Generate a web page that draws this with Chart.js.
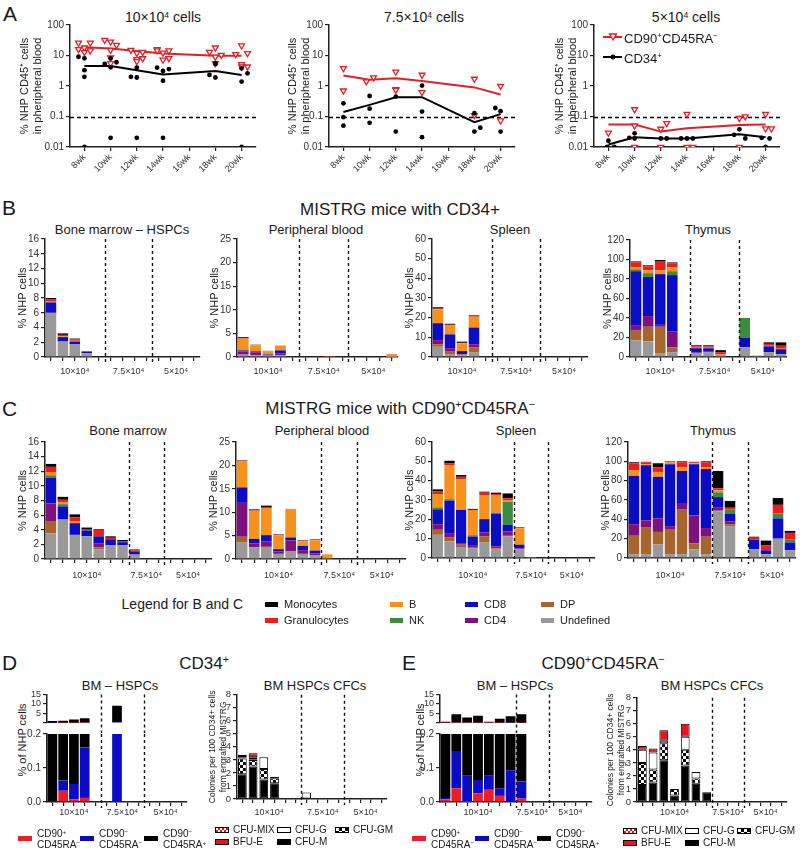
<!DOCTYPE html>
<html><head><meta charset="utf-8">
<script src="https://cdn.jsdelivr.net/npm/chart.js@4"></script>
<style>
body{margin:0;width:800px;height:854px;position:relative;background:#fff;overflow:hidden;
  font-family:'Liberation Sans',Arial,sans-serif;color:#1a1a1a}
.t{position:absolute;white-space:nowrap;line-height:1}
sup{font-size:0.62em;line-height:0;vertical-align:0.5em}
canvas{position:absolute}
.sw{position:absolute;box-sizing:border-box}
</style></head><body>
<script>
// ---------- data ----------
const weeks = [8, 10, 12, 14, 16, 18, 20];
const meanWeeks = [8, 10, 12, 14, 18, 20];
const decades = [0.01, 0.1, 1, 10, 100];
const groupNames = ['10×10⁴', '7.5×10⁴', '5×10⁴'];

// A: [week (with jitter), % NHP CD45+]
const a1Red = [[7.55,26],[7.55,16],[8,18],[8,12.7],[8.45,26],[8.45,14.4],
  [9.55,32],[10,28],[10.45,22],[10,15],[10,8.5],[10,5.5],
  [11.55,15],[12,12],[12,7.5],[12,6.4],[12.45,13],[12.45,8],
  [13.55,16],[13.55,14.5],[14,12.3],[14,7.2],[14.45,14.4],[14.45,8.1],
  [17.55,13],[18,18],[18,9],[18,5.5],[18.45,10.4],
  [19.55,11],[20,21],[20,5.1],[20,4.3],[20.45,11.8],[20.45,4.3]];
const a1Black = [[7.55,9.1],[8,8.1],[8,3.3],[8,2.0],[8,0.01],
  [9.55,5.3],[10,8.1],[10,4.1],[10.45,6],[10,0.02],
  [11.55,2.0],[12,4.0],[12,1.9],[12,0.02],
  [13.55,4],[14,3.1],[14,1.5],[14.45,3.6],[14,0.02],
  [17.55,2.3],[18,1.9],[18,5.5],[18,5.3],
  [20,1.4],[20,3.8],[20.45,2.6],[20,0.01]];
const a1RedMean = [18.5, 17, 14, 11.7, 9.9, 9.9];
const a1BlackMean = [4.5, 4.5, 3.3, 2.4, 3.1, 2.3];

const a2Red = [[8,3.8],[8,0.7],[9.75,1.4],[10.3,1.9],[12,2.9],[12,0.78],[12,0.74],
  [14,2.3],[14,0.62],[18,1.7],[18,0.11],[20,1.0],[20,0.073]];
const a2Black = [[8,0.27],[8,0.095],[8,0.05],[10,0.47],[10,0.18],[10,0.062],[12,0.45],[12,0.032],
  [14,1.03],[14,0.145],[14,0.021],[18,0.128],[18,0.032],[18.45,0.043],[19.6,0.19],[20,0.15],[20,0.032]];
const a2RedMean = [2.2, 1.6, 1.8, 1.45, 0.9, 0.53];
const a2BlackMean = [0.14, 0.24, 0.43, 0.43, 0.065, 0.12];

const a3Red = [[8,0.029],[10,0.17],[10,0.05],[10,0.01],[12,0.039],[12.45,0.06],[12,0.01],
  [14,0.12],[14,0.01],[14.45,0.01],[18,0.088],[18.45,0.1],[18,0.01],[20,0.12],[20,0.04],[20.45,0.04]];
const a3Black = [[7.9,0.01],[8.45,0.01],[8,0.016],[9.6,0.02],[10,0.028],[10,0.019],[12,0.019],[12.45,0.019],
  [13.55,0.019],[14,0.019],[14.45,0.019],[17.6,0.025],[18,0.038],[18.45,0.019],[19.7,0.02],[20.3,0.019],[20,0.01]];
const a3RedMean = [0.055, 0.055, 0.032, 0.041, 0.053, 0.055];
const a3BlackMean = [0.012, 0.021, 0.019, 0.019, 0.026, 0.021];

// B/C: segment sizes per bar, bottom to top
const cellTypes = ['Undefined', 'DP', 'CD4', 'CD8', 'NK', 'B', 'Granulocytes', 'Monocytes'];
const cellColors = ['#999999', '#a6652c', '#7f117f', '#0c0cc4', '#3b8c3b', '#f7911d', '#f21b1b', '#000000'];

const bmB = [[5.9,0,0.1,1.4,0,0.1,0.3,0.2],[2.1,0,0,0.6,0,0.1,0.2,0.2],[1.7,0,0,0.4,0,0.1,0.2,0.1],[0.5,0,0,0.2,0,0,0.05,0.05]];
const bmBSlots = [0, 1, 2, 3];
const pbB = [[0.5,0,0.7,0.2,0,2.5,0.1,0.2],[0.4,0,0.6,0.2,0,1.3,0.05,0.05],[0.3,0,0.2,0.1,0,0.65,0.03,0.02],
  [0.4,0,0.4,0.6,0,0.95,0.03,0.02],[0,0,0,0,0,0.08,0.05,0],[0.05,0,0,0,0,0.45,0.1,0]];
const pbBSlots = [0, 1, 2, 3, 7, 12];
const spB = [[5.2,1.3,2.1,8.6,0,7.1,0.3,0.7],[1.5,1.2,1.8,7.0,0,4.8,0.1,0.5],[1.0,0.3,0.2,1.5,0,4.0,0.2,0.6],[2.5,2.5,1.5,8.5,0,5.5,0.5,0.3]];
const spBSlots = [0, 1, 2, 3];
const thB = [[17,10,5,56,2,2,5,1],[16,15,11,40,4,3,4,1],[4,27,2,52,0,4,9.5,1],[5,5,16,58,4,4,4,1],
  [4,0,0.5,4.5,0,0.5,1.5,1],[5,0,1,3,0,0.5,1.5,1],[2,0.5,0,0,0,0.5,2,2],
  [10,0,0,10,20,0,0,0],[1.5,0,0,0,0,0,0,0],[5,0,0,6,0,0.5,2,1.5],[3,0,0,5,0,0.5,3,3.5]];
const thBSlots = [0, 1, 2, 3, 5, 6, 7, 9, 10, 11, 12];

const bmC = [[3.5,1.7,2.4,3.5,0.35,0.45,0.7,0.4],[5.4,0,0,1.8,0.3,0.3,0.3,0.4],[3.3,0,0,1.6,0,0.3,0.5,0.4],
  [3.1,0,0,0.8,0,0,0.2,0.2],[1.3,0.3,0.5,1.0,0,0,0.9,0.1],[1.9,0,0,0.8,0,0,0.2,0.2],[1.9,0,0,0.4,0,0,0.15,0.15],
  [0.6,0,0,0.45,0,0,0.15,0.1]];
const bmCSlots = [0, 1, 2, 3, 4, 5, 6, 7];
const pbC = [[3.5,1.25,7.25,3.3,0,5.65,0.05,0.1],[2.5,0,0.8,1.0,0,6.0,0.1,0.2],[2.6,0,1.2,1.3,0,5.8,0.2,0.3],
  [1.1,0,0.5,0.5,0,3.0,0.1,0.1],[1.6,0,2.4,0.6,0,6.0,0.05,0.05],[1.1,0,0.8,0.9,0,1.0,0.1,0.1],
  [0.85,0,0.35,0.6,0,2.2,0.1,0.1],[0,0,0,0,0,1.0,0,0]];
const pbCSlots = [0, 1, 2, 3, 4, 5, 6, 7];
const spC = [[12.0,2.6,2.9,7.7,1.0,6.9,1.5,0.9],[8.6,2.2,2.1,16.8,0.7,17.6,0.9,1.4],[5.7,1.2,0.8,17.2,0,15.8,1.3,0.9],
  [5.1,0.6,1.0,4.4,0.7,13.1,0,0.5],[8.2,2.9,2.1,6.9,0,12.5,1.2,0.5],[4.6,0.4,1.0,16.8,0.7,9.1,0.5,0.7],
  [11.1,0.4,2.2,3.5,12.0,0.5,1.2,2.5],[4.6,0,0.3,2.0,0,8.5,0.1,0.3],[0,0,0,0,0,0.2,0.2,0]];
const spCSlots = [0, 1, 2, 3, 4, 5, 6, 7, 8];
const thC = [[4,19,12,50,0,6,7,1],[4,28,7,57,0,1,2,0.5],[14,13,14,43,0,5,5,4],[4,26,3,64,0,2,0.5,0.5],
  [4,46,6,34,0,4,5,1],[9,6,29,53,0,1,1,0.5],[4,18,9,61,0,2,5,1],
  [48,1,3,11,5,2,2,18],[33,2,3,8,4,0,2,7],
  [9,0,0,10,0,0,2,1],[4,0,0,4,0,0,5,5],[20,0,0,21,5,0,9,7],[8,0,0,8,3,0,7,2]];
const thCSlots = [0, 1, 2, 3, 4, 5, 6, 7, 8, 10, 11, 12, 13];

// D/E: BM HSPC subsets [CD90+CD45RA-, CD90-CD45RA-, CD90-CD45RA+]
const subsetNames = ['CD90+CD45RA-', 'CD90-CD45RA-', 'CD90-CD45RA+'];
const subsetColors = ['#ee1c25', '#0b0bc6', '#000000'];
const hspcD = [[0,0.003,1.0],[0.033,0.03,1.1],[0.008,0.045,1.8],[0.012,0.148,2.3],[0,0.5,8.5]];
const hspcDSlots = [0, 1, 2, 3, 6];
const hspcE = [[0.008,0.004,0.6],[0.04,0.11,4.5],[0.003,0.074,2.8],[0.025,0.04,3.8],[0.036,0.041,0.6],
  [0.018,0.022,2.2],[0,0.093,3.5],[0.01,0.05,4.5]];
const hspcESlots = [0, 1, 2, 3, 4, 5, 6, 7];

// D/E: colonies [CFU-M, CFU-GM, CFU-G, CFU-MIX, BFU-E]
const cfcNames = ['CFU-M', 'CFU-GM', 'CFU-G', 'CFU-MIX', 'BFU-E'];
const cfcD = [[1.9,1.2,0.1,0.1,0.1],[2.5,0.5,0.05,0.15,0.3],[1.5,0.8,0.9,0,0],[1.2,0.4,0.1,0,0],[0,0,0.5,0,0]];
const cfcDSlots = [0, 1, 2, 3, 6];
const cfcE = [[1.3,1.7,1.0,0,0.3],[1.5,1.0,1.3,0,0.3],[3.2,1.3,0.2,0,0.8],[0.5,0.5,0,0,0],
  [2.8,1.2,1.0,0,1.0],[1.4,0.4,0.5,0,0],[0.75,0,0,0,0]];
const cfcESlots = [0, 1, 2, 3, 4, 5, 6];

// ---------- helpers ----------
const AX = '#222';
const RED = '#e41e26';
Chart.defaults.font.family = "'Liberation Sans', Arial, sans-serif";
Chart.defaults.color = '#333';

function txt(html, x, y, size, anchor, extra) {
  const d = document.createElement('div');
  d.className = 't';
  d.innerHTML = html;
  d.style.left = x + 'px';
  d.style.top = y + 'px';
  d.style.fontSize = size + 'px';
  const tx = anchor === 'l' ? '0' : anchor === 'r' ? '-100%' : '-50%';
  d.style.transform = `translate(${tx},-50%)` + (extra || '');
  document.body.appendChild(d);
}
function swatch(x, y, w, h, bg, border) {
  const d = document.createElement('div');
  d.className = 'sw';
  Object.assign(d.style, {left: x + 'px', top: (y - h / 2) + 'px', width: w + 'px', height: h + 'px', background: bg});
  if (border) d.style.border = '1px solid #000';
  document.body.appendChild(d);
}
function checker(c1, c2, s) {
  const cv = document.createElement('canvas');
  cv.width = cv.height = 2 * s;
  const g = cv.getContext('2d');
  g.fillStyle = c2; g.fillRect(0, 0, 2 * s, 2 * s);
  g.fillStyle = c1; g.fillRect(0, 0, s, s); g.fillRect(s, s, s, s);
  return g.createPattern(cv, 'repeat');
}

const hline = {
  id: 'hline',
  beforeDatasetsDraw(chart, args, o) {
    const {ctx, chartArea: a, scales: {y}} = chart;
    const py = Math.round(y.getPixelForValue(o.value)) + 0.5;
    ctx.save();
    ctx.strokeStyle = '#000'; ctx.lineWidth = 1.5; ctx.setLineDash([4, 3]);
    ctx.beginPath(); ctx.moveTo(a.left, py); ctx.lineTo(a.right, py); ctx.stroke();
    ctx.restore();
  }
};
const groupPlugin = {
  id: 'groups',
  afterDraw(chart, args, o) {
    const {ctx, chartArea: a, scales: {x}} = chart;
    ctx.save();
    ctx.font = "9px 'Liberation Sans', Arial, sans-serif";
    ctx.fillStyle = '#333'; ctx.textAlign = 'center'; ctx.textBaseline = 'middle';
    let k = 0;
    o.sizes.forEach((n, gi) => {
      const c = (x.getPixelForValue(k) + x.getPixelForValue(k + n - 1)) / 2;
      if (o.labels) ctx.fillText(o.labels[gi], c, a.bottom + o.gap);
      k += n;
      if (gi < o.sizes.length - 1) {
        const bx = Math.round((x.getPixelForValue(k - 1) + x.getPixelForValue(k)) / 2) + 0.5;
        ctx.strokeStyle = '#111'; ctx.lineWidth = 1.4; ctx.setLineDash([3, 3]);
        ctx.beginPath(); ctx.moveTo(bx, a.top); ctx.lineTo(bx, a.bottom + o.dashDown); ctx.stroke();
      }
    });
    ctx.restore();
  }
};

function makeChart(area, box, cfg, xHidden) {
  const [x0, y0, x1, y1] = area;
  const [l, t, r, b] = box;
  const cv = document.createElement('canvas');
  cv.width = r - l; cv.height = b - t;
  cv.style.left = l + 'px'; cv.style.top = t + 'px';
  document.body.appendChild(cv);
  cfg.options.responsive = false;
  cfg.options.animation = false;
  cfg.options.layout = {padding: {left: 0, top: y0 - t, right: r - x1, bottom: xHidden ? b - y1 : 0}};
  cfg.options.scales.y.afterFit = s => { s.width = x0 - l; };
  if (!xHidden) cfg.options.scales.x.afterFit = s => { s.height = b - y1; };
  return new Chart(cv, cfg);
}

function weekChart(area, boxLeft, red, black, redMean, blackMean) {
  const [x0, y0, x1, y1] = area;
  const pts = arr => arr.map(([x, y]) => ({x, y}));
  const mean = arr => meanWeeks.map((w, i) => ({x: w, y: arr[i]}));
  return makeChart(area, [boxLeft, y0 - 8, x1 + 8, y1 + 30], {
    type: 'scatter',
    data: {datasets: [
      {data: pts(black), pointStyle: 'circle', pointRadius: 2.4, backgroundColor: '#000', borderColor: '#000', borderWidth: 0},
      {data: pts(red), pointStyle: 'triangle', rotation: 180, pointRadius: 3.4, borderColor: RED, backgroundColor: '#fff', borderWidth: 1.3},
      {type: 'line', data: mean(redMean), borderColor: RED, borderWidth: 2, pointRadius: 0},
      {type: 'line', data: mean(blackMean), borderColor: '#000', borderWidth: 2, pointRadius: 0}
    ]},
    options: {
      plugins: {legend: {display: false}, tooltip: {enabled: false}, hline: {value: 0.1}},
      scales: {
        x: {type: 'linear', min: 6.9, max: 21.1,
          afterBuildTicks: s => { s.ticks = weeks.map(v => ({value: v})); },
          ticks: {callback: v => v + 'wk', minRotation: 45, maxRotation: 45, autoSkip: false, font: {size: 9}, padding: 1},
          grid: {drawOnChartArea: false, color: AX, tickLength: 4, lineWidth: 1.2}, border: {color: AX, width: 1.5}},
        y: {type: 'logarithmic', min: 0.01, max: 100,
          afterBuildTicks: s => { s.ticks = decades.map(v => ({value: v})); },
          ticks: {callback: v => String(v), autoSkip: false, font: {size: 10}, padding: 2},
          grid: {drawOnChartArea: false, color: AX, tickLength: 4, lineWidth: 1.2}, border: {color: AX, width: 1.5},
          title: {display: true, text: ['% NHP CD45⁺ cells', 'in pheripheral blood'], font: {size: 11}, color: '#222', padding: {top: 4, bottom: 0}}}
      }
    },
    plugins: [hline]
  });
}

function barChart(area, box, sizes, bars, slots, names, colors, y, o) {
  o = o || {};
  const n = sizes.reduce((s, v) => s + v, 0);
  const datasets = names.map((nm, si) => {
    const d = new Array(n).fill(null);
    bars.forEach((b, bi) => { if (b[si]) d[slots[bi]] = b[si]; });
    return {label: nm, data: d, backgroundColor: colors[si],
      borderColor: o.border ? '#000' : colors[si], borderWidth: o.border ? 1 : 0, borderSkipped: false,
      barPercentage: o.pct || 0.88, categoryPercentage: 1, clip: 0};
  });
  return makeChart(area, box, {
    type: 'bar',
    data: {labels: Array.from({length: n}, (_, i) => 's' + i), datasets},
    options: {
      plugins: {legend: {display: false}, tooltip: {enabled: false},
        groups: {sizes, labels: o.noLabels ? null : groupNames, gap: o.gap || 15, dashDown: o.dashDown ?? 6}},
      scales: {
        x: {display: !y.xHidden, stacked: true, ticks: {display: false},
          grid: {offset: false, drawOnChartArea: false, color: AX, tickLength: 4, lineWidth: 1.2}, border: {color: AX, width: 1.5}},
        y: {stacked: true, min: y.min || 0, max: y.max,
          ticks: {stepSize: y.step, autoSkip: false, font: {size: y.fsize || 10}, padding: 2, callback: y.fmt || (v => v)},
          grid: {drawOnChartArea: false, color: AX, tickLength: 4, lineWidth: 1.2}, border: {color: AX, width: 1.5},
          title: y.title ? {display: true, text: y.title, font: {size: y.tsize || 11}, color: '#222', padding: {top: 4, bottom: 0}} : {display: false}}
      }
    },
    plugins: [groupPlugin]
  }, y.xHidden);
}

// ---------- panel A ----------
txt('A', 3, 13, 21, 'l');
txt('10×10<sup>4</sup> cells', 163, 17, 14);
txt('7.5×10<sup>4</sup> cells', 424, 17, 14);
txt('5×10<sup>4</sup> cells', 686, 17, 14);
weekChart([70, 25, 256, 147], 14, a1Red, a1Black, a1RedMean, a1BlackMean);
weekChart([329, 25, 515, 147], 282, a2Red, a2Black, a2RedMean, a2BlackMean);
weekChart([594, 25, 780, 147], 549, a3Red, a3Black, a3RedMean, a3BlackMean);
document.body.insertAdjacentHTML('beforeend',
  '<svg style="position:absolute;left:602px;top:29px" width="22" height="36">' +
  '<line x1="1" y1="8" x2="20" y2="8" stroke="' + RED + '" stroke-width="2"/>' +
  '<path d="M7.5 5 L14.5 5 L11 11 Z" fill="#fff" stroke="' + RED + '" stroke-width="1.3"/>' +
  '<line x1="1" y1="28" x2="20" y2="28" stroke="#000" stroke-width="2"/>' +
  '<circle cx="11" cy="28" r="2.5" fill="#000"/></svg>');
txt('CD90<sup>+</sup>CD45RA<sup>−</sup>', 624, 38, 13, 'l');
txt('CD34<sup>+</sup>', 624, 58, 13, 'l');

// ---------- panel B ----------
txt('B', 2, 207, 21, 'l');
txt('MISTRG mice with CD34+', 400, 209, 17);
txt('Bone marrow – HSPCs', 122, 229, 13);
txt('Peripheral blood', 316, 229, 13);
txt('Spleen', 510, 229, 13);
txt('Thymus', 708, 229, 13);
const B = [5, 4, 4];
barChart([45, 239, 200, 357], [12, 231, 203, 381], B, bmB, bmBSlots, cellTypes, cellColors, {max: 16, step: 2, title: '% NHP cells'});
barChart([237, 239, 398, 357], [204, 231, 401, 381], B, pbB, pbBSlots, cellTypes, cellColors, {max: 25, step: 5, title: '% NHP cells'});
barChart([432, 239, 588, 357], [399, 231, 591, 381], B, spB, spBSlots, cellTypes, cellColors, {max: 60, step: 10, title: '% NHP cells'});
barChart([630, 240, 787, 357], [597, 232, 790, 381], B, thB, thBSlots, cellTypes, cellColors, {max: 120, step: 20, title: '% NHP cells'});

// ---------- panel C ----------
txt('C', 2, 408, 21, 'l');
txt('MISTRG mice with CD90<sup>+</sup>CD45RA<sup>−</sup>', 400, 408, 17);
txt('Bone marrow', 128, 430, 13);
txt('Peripheral blood', 322, 430, 13);
txt('Spleen', 516, 430, 13);
txt('Thymus', 713, 430, 13);
const C = [7, 3, 4];
barChart([45, 442, 212, 559], [12, 434, 215, 585], C, bmC, bmCSlots, cellTypes, cellColors, {max: 16, step: 2, title: '% NHP cells'}, {gap: 17});
barChart([236, 442, 406, 559], [203, 434, 409, 585], C, pbC, pbCSlots, cellTypes, cellColors, {max: 25, step: 5, title: '% NHP cells'}, {gap: 17});
barChart([432, 442, 595, 558], [399, 434, 598, 585], C, spC, spCSlots, cellTypes, cellColors, {max: 60, step: 10, title: '% NHP cells'}, {gap: 18});
barChart([628, 442, 796, 558], [595, 434, 799, 585], C, thC, thCSlots, cellTypes, cellColors, {max: 120, step: 20, title: '% NHP cells'}, {gap: 18});

// legend for B and C
txt('Legend for B and C', 243, 604, 14, 'r');
[[265, 604, 7], [265, 620, 6], [390, 604, 5], [390, 620, 4], [465, 604, 3], [465, 620, 2], [541, 604, 1], [541, 620, 0]]
  .forEach(([x, y, i]) => { swatch(x, y, 13, 5, cellColors[i]); txt(cellTypes[i], x + 19, y, 11, 'l'); });

// ---------- panels D / E ----------
const gmPat = checker('#000', '#fff', 3);
const mixPat = checker('#e8141c', '#fff', 2);
const cfcColors = ['#000', gmPat, '#fff', mixPat, '#e8141c'];
const cfcTitle = ['Colonies per 100 CD34+ cells', 'from engrafted MISTRG'];

txt('D', 2, 662, 21, 'l');
txt('CD34<sup>+</sup>', 204, 663, 17);
txt('BM – HSPCs', 120, 685, 13);
txt('BM HSPCs CFCs', 315, 685, 13);
txt('% of NHP cells', 22, 740, 11, 'c', ' rotate(-90deg)');
barChart([47, 693, 187, 723], [15, 687, 190, 733], [5, 4, 4], hspcD, hspcDSlots, subsetNames, subsetColors,
  {max: 15, step: 5, xHidden: true, fsize: 9, fmt: v => v ? v : ''}, {noLabels: true, dashDown: 10, pct: 0.9});
barChart([47, 732, 187, 802], [15, 726, 190, 822], [5, 4, 4], hspcD, hspcDSlots, subsetNames, subsetColors,
  {max: 0.2, step: 0.1, fmt: v => v.toFixed(1)}, {gap: 11, pct: 0.9});
barChart([237, 693, 387, 799], [204, 687, 390, 822], [6, 4, 4], cfcD, cfcDSlots, cfcNames, cfcColors,
  {max: 8, step: 1, title: cfcTitle, tsize: 8.5, fsize: 9.5}, {gap: 14, border: true, pct: 0.82});

txt('E', 402, 662, 21, 'l');
txt('CD90<sup>+</sup>CD45RA<sup>−</sup>', 603, 663, 17);
txt('BM – HSPCs', 515, 685, 13);
txt('BM HSPCs CFCs', 712, 685, 13);
txt('% of NHP cells', 420, 740, 11, 'c', ' rotate(-90deg)');
barChart([440, 693, 592, 723], [408, 687, 595, 733], [7, 3, 4], hspcE, hspcESlots, subsetNames, subsetColors,
  {max: 15, step: 5, xHidden: true, fsize: 9, fmt: v => v ? v : ''}, {noLabels: true, dashDown: 10, pct: 0.9});
barChart([440, 732, 592, 802], [408, 726, 595, 822], [7, 3, 4], hspcE, hspcESlots, subsetNames, subsetColors,
  {max: 0.2, step: 0.1, fmt: v => v.toFixed(1)}, {gap: 11, pct: 0.9});
barChart([637, 696, 787, 802], [602, 690, 790, 822], [7, 3, 4], cfcE, cfcESlots, cfcNames, cfcColors,
  {max: 8, step: 1, title: cfcTitle, tsize: 8.5, fsize: 9.5}, {gap: 11, border: true, pct: 0.82});

// D/E legends
const subsetLabels = ['CD90<sup>+</sup><br>CD45RA<sup>−</sup>', 'CD90<sup>−</sup><br>CD45RA<sup>−</sup>', 'CD90<sup>−</sup><br>CD45RA<sup>+</sup>'];
[[18, 80, 144], [412, 475, 537]].forEach(xs => xs.forEach((x, i) => {
  swatch(x, 838, 14, 5, subsetColors[i]);
  txt('<div style="line-height:11px">' + subsetLabels[i] + '</div>', x + 19, 839, 10, 'l');
}));
const gmCss = 'repeating-conic-gradient(#000 0 25%, #fff 0 50%) 0 0/6px 6px';
const mixCss = 'repeating-conic-gradient(#e8141c 0 25%, #fff 0 50%) 0 0/4px 4px';
[[215, 277, 335, 830, 842], [623, 685, 737, 831, 843]].forEach(([c1, c2, c3, r1, r2]) => {
  swatch(c1, r1, 14, 6, mixCss, true); txt('CFU-MIX', c1 + 18, r1, 10, 'l');
  swatch(c2, r1, 14, 6, '#fff', true); txt('CFU-G', c2 + 18, r1, 10, 'l');
  swatch(c3, r1, 14, 6, gmCss, true); txt('CFU-GM', c3 + 18, r1, 10, 'l');
  swatch(c1, r2, 14, 6, '#e8141c', true); txt('BFU-E', c1 + 18, r2, 10, 'l');
  swatch(c2, r2, 14, 6, '#000', true); txt('CFU-M', c2 + 18, r2, 10, 'l');
});
</script>
</body></html>
